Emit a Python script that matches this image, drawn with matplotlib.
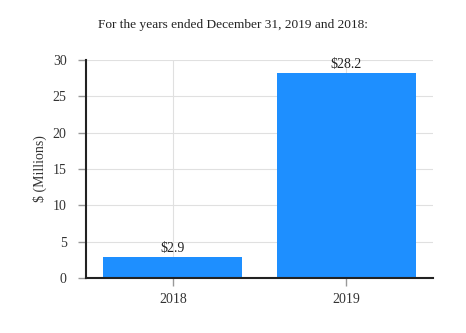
import matplotlib.pyplot as plt

# data
years = ['2018', '2019']
values = [2.9, 28.2]
labels = ['$2.9', '$28.2']

plt.rcParams['font.family'] = ['Liberation Serif', 'DejaVu Serif']

fig = plt.figure(figsize=(4.66, 3.33), dpi=100)
ax = fig.add_axes([86 / 466, 55 / 333, 347 / 466, 218 / 333])

x = range(len(years))
bars = ax.bar(x, values, width=0.8, color='#1E8FFF', zorder=2)
for b, lab in zip(bars, labels):
    ax.text(b.get_x() + b.get_width() / 2, b.get_height() + 0.3, lab,
            ha='center', va='bottom', fontsize=10, color='#222222', zorder=3)

ax.set_xlim(-0.5, 1.5)
ax.set_ylim(0, 30)
ax.set_yticks(range(0, 31, 5))
ax.set_xticks(list(x))
ax.set_xticklabels(years)
ax.grid(True, color='#e0e0e0', linewidth=0.8, zorder=0)
ax.set_axisbelow(True)

for s in ['top', 'right']:
    ax.spines[s].set_visible(False)
for s in ['left', 'bottom']:
    ax.spines[s].set_linewidth(1.5)
    ax.spines[s].set_color('#222222')

ax.tick_params(axis='y', length=6, width=1, color='#999999', labelsize=10,
               labelcolor='#333333', pad=8)
ax.tick_params(axis='x', length=6, width=1, color='#999999', labelsize=10,
               labelcolor='#333333', pad=5)
ax.set_ylabel('$ (Millions)', fontsize=10, color='#333333', labelpad=4)

fig.text(0.5, 1 - 25 / 333, 'For the years ended December 31, 2019 and 2018:',
         ha='center', va='center', fontsize=9.6, color='#222222')

fig.savefig('out.png', dpi=100)
